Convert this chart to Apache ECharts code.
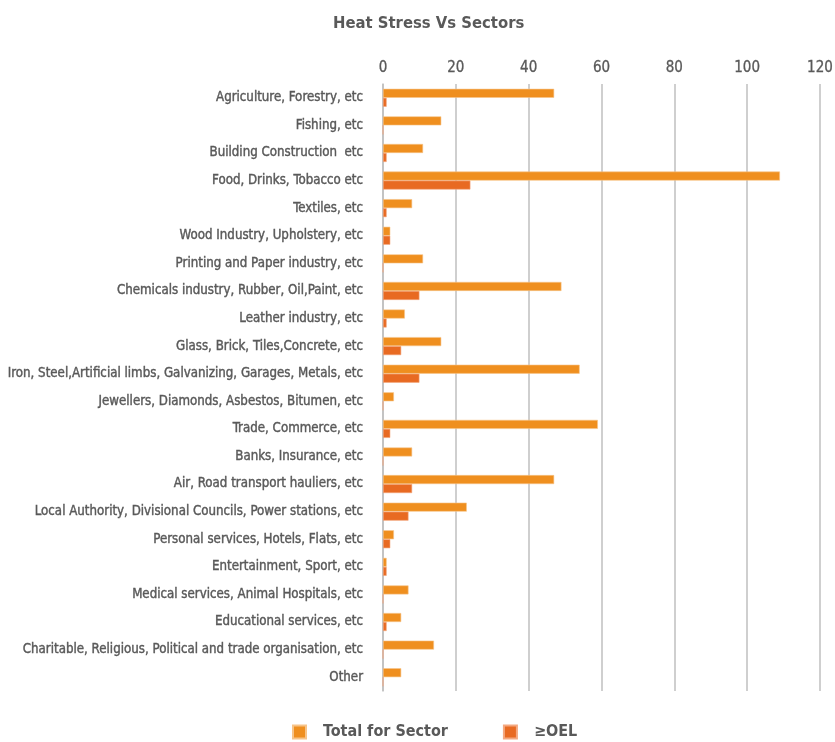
<!DOCTYPE html>
<html>
<head>
<meta charset="utf-8">
<title>Heat Stress Vs Sectors</title>
<script src="https://cdn.jsdelivr.net/npm/echarts@6/dist/echarts.min.js"></script>
<style>
  html, body { margin: 0; padding: 0; background: #ffffff; }
  #chart { width: 835px; height: 742px; }
</style>
</head>
<body>
<div id="chart"></div>
<script>
// Sectors, listed top to bottom
const sectors = [
  'Agriculture, Forestry, etc',
  'Fishing, etc',
  'Building Construction  etc',
  'Food, Drinks, Tobacco etc',
  'Textiles, etc',
  'Wood Industry, Upholstery, etc',
  'Printing and Paper industry, etc',
  'Chemicals industry, Rubber, Oil,Paint, etc',
  'Leather industry, etc',
  'Glass, Brick, Tiles,Concrete, etc',
  'Iron, Steel,Artificial limbs, Galvanizing, Garages, Metals, etc',
  'Jewellers, Diamonds, Asbestos, Bitumen, etc',
  'Trade, Commerce, etc',
  'Banks, Insurance, etc',
  'Air, Road transport hauliers, etc',
  'Local Authority, Divisional Councils, Power stations, etc',
  'Personal services, Hotels, Flats, etc',
  'Entertainment, Sport, etc',
  'Medical services, Animal Hospitals, etc',
  'Educational services, etc',
  'Charitable, Religious, Political and trade organisation, etc',
  'Other'
];

// Total number of workplaces measured per sector
const totalForSector = [47, 16, 11, 109, 8, 2, 11, 49, 6, 16, 54, 3, 59, 8, 47, 23, 3, 1, 7, 5, 14, 5];

// Workplaces at or above the occupational exposure limit
const aboveOEL = [1, 0, 1, 24, 1, 2, 0, 10, 1, 5, 10, 0, 2, 0, 8, 7, 2, 1, 0, 1, 0, 0];

// Value axis ticks
const axisMin = 0;
const axisMax = 120;
const axisStep = 20;

const seriesNames = ['Total for Sector', '\u2265OEL'];

const textGray = '#595959';
const fontFam = '"DejaVu Sans Condensed", "Roboto", sans-serif';

const chart = echarts.init(document.getElementById('chart'), null, { renderer: 'canvas' });

chart.setOption({
  backgroundColor: '#ffffff',
  animation: false,
  title: {
    text: 'Heat Stress Vs Sectors',
    left: 328,
    top: 10,
    textStyle: { color: textGray, fontFamily: fontFam, fontWeight: 'bold', fontSize: 16.5 }
  },
  legend: {
    data: seriesNames,
    bottom: -3,
    left: 287,
    itemWidth: 13,
    itemHeight: 13,
    itemGap: 55,
    icon: 'rect',
    textStyle: { color: textGray, fontFamily: fontFam, fontWeight: 'bold', fontSize: 16, padding: [0, 0, 0, 12] }
  },
  grid: { left: 383, right: 15, top: 84, bottom: 51, containLabel: false, outerBoundsMode: 'none' },
  xAxis: {
    type: 'value',
    position: 'top',
    min: axisMin,
    max: axisMax,
    interval: axisStep,
    axisLine: { show: false },
    axisTick: { show: false },
    axisLabel: {
      color: textGray, fontFamily: fontFam, fontSize: 15, margin: 8,
      textBorderColor: textGray, textBorderWidth: 0.3
    },
    splitLine: { show: true, lineStyle: { color: '#BFBFBF', width: 1.5 } }
  },
  yAxis: {
    type: 'category',
    data: sectors,
    inverse: true,
    axisLine: { show: true, lineStyle: { color: '#BFBFBF', width: 1.5 } },
    axisTick: { show: false },
    axisLabel: {
      color: textGray, fontFamily: fontFam, fontSize: 13.2, margin: 20, interval: 0,
      textBorderColor: textGray, textBorderWidth: 0.4
    }
  },
  series: [
    {
      name: seriesNames[0],
      type: 'bar',
      data: totalForSector,
      barWidth: 9,
      barGap: '0%',
      itemStyle: { color: '#EF8F1F', borderColor: '#F7C489', borderWidth: 0.6 }
    },
    {
      name: seriesNames[1],
      type: 'bar',
      data: aboveOEL,
      barWidth: 9,
      barGap: '0%',
      itemStyle: { color: '#E86A22', borderColor: '#F4A880', borderWidth: 0.6 }
    }
  ]
});
</script>
</body>
</html>
